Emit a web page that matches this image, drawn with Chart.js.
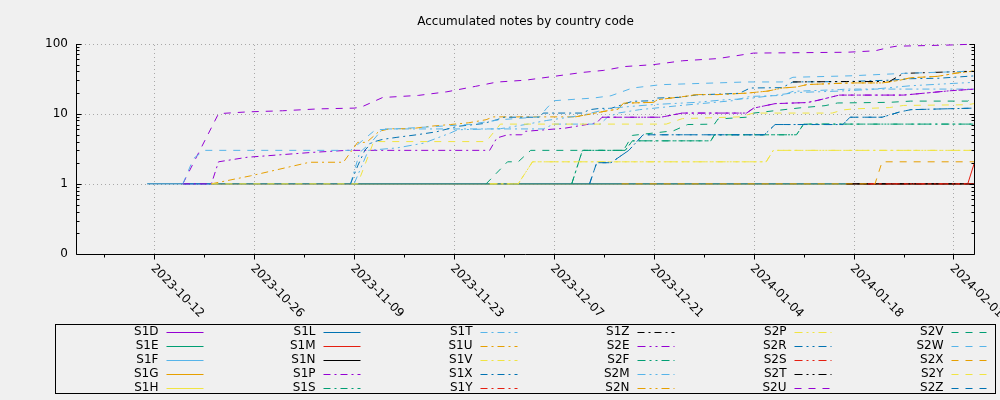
<!DOCTYPE html>
<html>
<head>
<meta charset="utf-8">
<title>Accumulated notes by country code</title>
<script src="https://cdn.jsdelivr.net/npm/chart.js@4.4.1/dist/chart.umd.min.js"></script>
<style>
  html, body { margin: 0; padding: 0; background: #f0f0f0; }
  #wrap { width: 1000px; height: 400px; position: relative; }
</style>
</head>
<body>
<div id="wrap"><canvas id="chart"></canvas></div>
<script>
const TITLE = 'Accumulated notes by country code';
const X_TICKS = ['2023-10-12', '2023-10-26', '2023-11-09', '2023-11-23', '2023-12-07',
                 '2023-12-21', '2024-01-04', '2024-01-18', '2024-02-01'];
const X_FIRST = '2023-10-01T04';
const X_LAST = '2024-02-03T21';
const Y_TICKS = [0.1, 1, 10, 100];
const Y_LABELS = ['0', '1', '10', '100'];

const CODES = ['S1D', 'S1E', 'S1F', 'S1G', 'S1H', 'S1L', 'S1M', 'S1N', 'S1P', 'S1S',
               'S1T', 'S1U', 'S1V', 'S1X', 'S1Y', 'S1Z', 'S2E', 'S2F', 'S2M', 'S2N',
               'S2P', 'S2R', 'S2S', 'S2T', 'S2U', 'S2V', 'S2W', 'S2X', 'S2Y', 'S2Z'];

// [date, accumulated notes]
const S1D = [['2023-10-16', 1], ['2024-02-04', 1]];
const S1E = [['2023-11-09', 1], ['2024-02-04', 1]];
const S1F = [['2023-10-16', 1], ['2024-02-04', 1]];
const S1G = [['2023-10-20', 1], ['2024-02-04', 1]];
const S1H = [['2023-10-20', 1], ['2024-02-04', 1]];
const S1L = [['2023-10-11', 1], ['2024-02-04', 1]];
const S1M = [['2024-01-17', 1], ['2024-02-03', 1], ['2024-02-04', 2.1]];
const S1N = [['2024-01-17', 1], ['2024-02-04', 1]];
const S1P = [['2023-10-16', 1], ['2023-10-20', 1], ['2023-10-21', 2.06], ['2023-10-25', 2.39],
             ['2023-11-03', 2.8], ['2023-11-08', 3], ['2023-11-28', 3], ['2023-11-29', 4.5],
             ['2023-11-30T12', 5], ['2023-12-02T12', 5], ['2023-12-03', 5.6], ['2023-12-08T12', 6.2],
             ['2023-12-13', 7.4], ['2023-12-13T18', 8.9], ['2023-12-22', 8.9], ['2023-12-25', 10.2],
             ['2024-01-03', 10.2], ['2024-01-04', 12], ['2024-01-07', 13.9], ['2024-01-11T12', 14.4],
             ['2024-01-13', 15.5], ['2024-01-16', 18.4], ['2024-01-25', 18.4], ['2024-01-27', 19.2],
             ['2024-01-31T12', 21.2], ['2024-02-04', 22.4]];
const S1S = [['2023-12-09T12', 1], ['2023-12-11', 3], ['2023-12-17', 3], ['2023-12-18', 4.1],
             ['2023-12-29', 4.1], ['2023-12-29T12', 5], ['2024-01-10', 5], ['2024-01-11', 7.1],
             ['2024-02-04', 7.1]];
const S1T = [['2023-11-08T12', 1], ['2023-11-09T19', 2.8], ['2023-11-11T12', 4], ['2023-11-13', 6.06],
             ['2023-12-05T12', 6.06], ['2023-12-07', 7.1], ['2023-12-13T12', 7.1], ['2023-12-14T12', 8.9],
             ['2023-12-16', 10.2], ['2023-12-19', 11.4], ['2023-12-24T12', 13], ['2024-01-01', 15.3],
             ['2024-01-03T12', 17.6], ['2024-01-08', 18.2], ['2024-01-09T12', 20.8], ['2024-01-16', 22],
             ['2024-01-17', 22.4], ['2024-02-04', 22.4]];
const S1U = [['2023-10-20', 1], ['2023-10-22', 1.1], ['2023-10-25T12', 1.3], ['2023-11-02T18', 2.03],
             ['2023-11-07T12', 2.03], ['2023-11-09T12', 3.9], ['2023-11-10T18', 3.9], ['2023-11-12T12', 5.6],
             ['2023-11-14', 6.1], ['2023-11-17', 6.1], ['2023-11-19T12', 6.6], ['2023-11-22T12', 7],
             ['2023-11-25', 7.4], ['2023-11-27T12', 8.2], ['2023-11-28T12', 9], ['2023-12-10', 9],
             ['2023-12-14T12', 11], ['2023-12-16', 11.6], ['2023-12-16T18', 14.1], ['2023-12-21', 14.5],
             ['2023-12-21T12', 15.8], ['2023-12-25T12', 17.7], ['2023-12-27', 18.7], ['2023-12-30', 18.7],
             ['2024-01-03', 19.6], ['2024-01-06', 21], ['2024-01-08', 23.2], ['2024-01-10', 24],
             ['2024-01-11T12', 26], ['2024-01-17T12', 27.4], ['2024-01-22', 27.4], ['2024-01-24T12', 30],
             ['2024-01-26', 32.5], ['2024-01-29T18', 34], ['2024-02-01T12', 38], ['2024-02-04', 40.6]];
const S1V = [['2023-11-28', 1], ['2023-12-02', 1], ['2023-12-04', 2.06], ['2024-01-05T18', 2.06],
             ['2024-01-06T18', 3], ['2024-02-04', 3]];
const S1X = [['2023-11-08T12', 1], ['2023-11-09T12', 1.8], ['2023-11-10T12', 3], ['2023-11-11T12', 3.9],
             ['2023-11-13', 4.3], ['2023-11-15', 4.6], ['2023-11-17T18', 5], ['2023-11-20T12', 5.5],
             ['2023-11-23T12', 6.6], ['2023-11-27', 7.2], ['2023-11-29', 8.2], ['2023-11-30', 8.9],
             ['2023-12-05', 8.9], ['2023-12-05T12', 10.2], ['2023-12-11', 10.2], ['2023-12-12', 11.4],
             ['2023-12-13T12', 11.9], ['2023-12-15', 11.9], ['2023-12-18', 15], ['2023-12-21', 15.3],
             ['2023-12-21T12', 16.7], ['2023-12-24T18', 17.1], ['2023-12-27', 18.5], ['2024-01-02', 19.5],
             ['2024-01-03T12', 23.2], ['2024-01-08', 23.5], ['2024-01-09T12', 28.3], ['2024-01-17', 28.7],
             ['2024-01-23', 30], ['2024-01-26', 31.5], ['2024-01-30', 32], ['2024-02-04', 34.6]];
const S1Y = [['2024-01-20', 1], ['2024-02-04', 1]];
const S1Z = [['2024-01-17', 1], ['2024-02-04', 1]];
const S2E = [['2023-12-13T18', 8.9], ['2023-12-22', 8.9], ['2023-12-25', 10.2], ['2024-01-03', 10.2],
             ['2024-01-04', 12], ['2024-01-07', 13.9], ['2024-01-11T12', 14.4], ['2024-01-13', 15.5],
             ['2024-01-16', 18.4], ['2024-01-25', 18.4], ['2024-01-27', 19.2], ['2024-01-31T12', 21.2],
             ['2024-02-04', 22.4]];
const S2F = [['2023-12-09T12', 1], ['2023-12-11', 3], ['2023-12-17', 3], ['2023-12-18', 4.1],
             ['2023-12-29', 4.1], ['2023-12-29T12', 5], ['2024-01-10', 5], ['2024-01-11', 7.1],
             ['2024-02-04', 7.1]];
const S2M = [['2023-11-09', 1], ['2023-11-11', 3], ['2023-11-15', 3.25], ['2023-11-18T18', 3.8],
             ['2023-11-22T12', 5.3], ['2023-11-23T12', 5.9], ['2023-11-29T12', 6.1], ['2023-12-03', 7],
             ['2023-12-06', 8], ['2023-12-11', 9.5], ['2023-12-15', 12], ['2023-12-21', 13.5],
             ['2023-12-27', 14.5], ['2023-12-31', 15.8], ['2024-01-03', 16.3], ['2024-01-10', 20],
             ['2024-01-16', 21], ['2024-01-20', 22], ['2024-01-26', 25], ['2024-02-01', 27],
             ['2024-02-04', 28]];
const S2N = [['2023-12-10', 9], ['2023-12-14T12', 11], ['2023-12-16', 11.6], ['2023-12-16T18', 14.1],
             ['2023-12-21', 14.5], ['2023-12-21T12', 15.8], ['2023-12-25T12', 17.7], ['2023-12-27', 18.7],
             ['2023-12-30', 18.7], ['2024-01-03', 19.6], ['2024-01-06', 21], ['2024-01-08', 23.2],
             ['2024-01-10', 24], ['2024-01-11T12', 26], ['2024-01-17T12', 27.4], ['2024-01-22', 27.4],
             ['2024-01-24T12', 30], ['2024-01-26', 32.5], ['2024-01-29T18', 34], ['2024-02-01T12', 38],
             ['2024-02-04', 40.6]];
const S2P = [['2023-11-28', 1], ['2023-12-02', 1], ['2023-12-04', 2.06], ['2024-01-05T18', 2.06],
             ['2024-01-06T18', 3], ['2024-02-04', 3]];
const S2R = [['2023-12-12', 1], ['2023-12-13', 2], ['2023-12-15', 2], ['2023-12-17T12', 3],
             ['2023-12-19T12', 5], ['2024-01-05T12', 5], ['2024-01-07', 7], ['2024-01-16T12', 7],
             ['2024-01-17T12', 8.9], ['2024-01-22', 8.9], ['2024-01-24T12', 10.6], ['2024-01-26', 11.4],
             ['2024-02-04', 12]];
const S2S = [['2024-01-20', 1], ['2024-02-04', 1]];
const S2T = [['2024-01-09T12', 28.3], ['2024-01-17', 28.7], ['2024-01-23', 28.7], ['2024-01-25', 37.5],
             ['2024-02-02T12', 40], ['2024-02-04', 40]];
const S2U = [['2023-10-16', 1], ['2023-10-21', 10], ['2023-10-25', 10.6], ['2023-10-30', 11],
             ['2023-11-04', 11.7], ['2023-11-09', 12], ['2023-11-10', 12.4], ['2023-11-12', 15.3],
             ['2023-11-13', 17], ['2023-11-18', 18.2], ['2023-11-22', 20.5], ['2023-11-26', 24.5],
             ['2023-11-29', 28.2], ['2023-12-03', 30], ['2023-12-07', 34], ['2023-12-11', 38.7],
             ['2023-12-14', 41.4], ['2023-12-17', 47], ['2023-12-21', 50], ['2023-12-25', 56.7],
             ['2023-12-30', 61], ['2024-01-03', 70.5], ['2024-01-04', 73], ['2024-01-17', 75],
             ['2024-01-21', 78.6], ['2024-01-23', 88], ['2024-01-24', 91.5], ['2024-01-31', 94.8],
             ['2024-02-04', 98]];
const S2V = [['2023-11-27T12', 1], ['2023-11-30T12', 2.06], ['2023-12-02', 2.06], ['2023-12-03T18', 3],
             ['2023-12-16T18', 3], ['2023-12-18', 4.9], ['2023-12-23T18', 5.7], ['2023-12-25T18', 7],
             ['2023-12-29T12', 7.1], ['2023-12-30', 8.4], ['2024-01-03', 8.9], ['2024-01-04', 10.2],
             ['2024-01-10T12', 12.1], ['2024-01-14', 13], ['2024-01-15T18', 14.2], ['2024-01-23', 14.5],
             ['2024-01-26', 15.1], ['2024-02-03', 15.1], ['2024-02-04', 18]];
const S2W = [['2023-10-16', 1], ['2023-10-17T12', 2.3], ['2023-10-19', 3], ['2023-11-08T12', 3],
             ['2023-11-10', 4], ['2023-11-12', 5.9], ['2023-11-14', 6], ['2023-11-25', 7],
             ['2023-11-29T12', 8.2], ['2023-12-05', 9], ['2023-12-06', 12], ['2023-12-07', 15.3],
             ['2023-12-12T12', 16.7], ['2023-12-15', 18], ['2023-12-18', 23.2], ['2023-12-22', 25.9],
             ['2024-01-03', 28.3], ['2024-01-08', 28.3], ['2024-01-09T12', 33], ['2024-01-17T12', 34.6],
             ['2024-01-25', 37.5], ['2024-02-02T12', 40], ['2024-02-04', 40]];
const S2X = [['2023-12-16T12', 1], ['2024-01-21', 1], ['2024-01-22', 2.06], ['2024-02-04', 2.06]];
const S2Y = [['2023-10-20', 1], ['2023-11-09T12', 1], ['2023-11-11T18', 4], ['2023-11-27T12', 4],
             ['2023-11-29T12', 7.1], ['2023-12-22T18', 7.1], ['2023-12-25', 8.5], ['2024-01-02', 9],
             ['2024-01-04', 10.2], ['2024-01-15', 10.2], ['2024-01-16T12', 11.3], ['2024-01-18', 11.7],
             ['2024-01-23', 12.2], ['2024-01-25', 13.1], ['2024-02-03', 13.4], ['2024-02-04', 14]];
const S2Z = [['2023-12-12', 1], ['2023-12-13', 2], ['2023-12-15', 2], ['2023-12-17T12', 3],
             ['2023-12-19T12', 5], ['2024-01-05T12', 5], ['2024-01-07', 7], ['2024-01-16T12', 7],
             ['2024-01-17T12', 8.9], ['2024-01-22', 8.9], ['2024-01-24T12', 10.6], ['2024-01-26', 11.4],
             ['2024-02-04', 12]];

const POINTS = [S1D, S1E, S1F, S1G, S1H, S1L, S1M, S1N, S1P, S1S,
                S1T, S1U, S1V, S1X, S1Y, S1Z, S2E, S2F, S2M, S2N,
                S2P, S2R, S2S, S2T, S2U, S2V, S2W, S2X, S2Y, S2Z];

const COLORS = ['#9400d3', '#009e73', '#56b4e9', '#e69f00', '#f0e442', '#0072b2', '#e51e10', '#000000'];
const DASHES = [[], [7, 4, 2, 4], [8, 4, 2, 4, 2, 4], [7, 7]];

const FONT = '12px "DejaVu Sans"';
const T0 = Date.UTC(2023, 9, 12);

// date string -> days after 2023-10-12
function day(s) {
    const [date, hour] = s.split('T');
    const [y, m, d] = date.split('-').map(Number);
    return (Date.UTC(y, m - 1, d, Number(hour || 0)) - T0) / 864e5;
}

const datasets = CODES.map((code, i) => ({
    label: code,
    data: POINTS[i].map(p => ({ x: day(p[0]), y: p[1] })),
    borderColor: COLORS[i % 8],
    borderDash: DASHES[Math.floor(i / 8)],
    borderWidth: 1,
    pointRadius: 0,
    fill: false,
    tension: 0,
    order: -i
}));

const gnuFrame = {
    id: 'gnuFrame',
    beforeDatasetsDraw(chart) {
        const { ctx, chartArea: a, scales: { x, y } } = chart;
        ctx.save();
        ctx.strokeStyle = '#a8a8a8';
        ctx.lineWidth = 1;
        ctx.setLineDash([1, 3]);
        ctx.beginPath();
        X_TICKS.forEach(s => {
            const px = Math.round(x.getPixelForValue(day(s))) + 0.5;
            ctx.moveTo(px, a.bottom);
            ctx.lineTo(px, a.top);
        });
        Y_TICKS.slice(1).forEach(v => {
            const py = Math.round(y.getPixelForValue(v)) + 0.5;
            ctx.moveTo(a.left, py);
            ctx.lineTo(a.right, py);
        });
        ctx.stroke();
        ctx.restore();
    },
    afterDraw(chart) {
        const { ctx, chartArea: a, scales: { x, y } } = chart;
        const L = Math.round(a.left) - 0.5;
        const R = Math.round(a.right) + 0.5;
        const B = Math.round(a.bottom) + 0.5;
        const T = Math.round(a.top);
        ctx.save();
        ctx.strokeStyle = '#000';
        ctx.lineWidth = 1;
        ctx.setLineDash([]);
        ctx.beginPath();
        ctx.moveTo(L, T); ctx.lineTo(L, B); ctx.lineTo(R, B); ctx.lineTo(R, T);

        // log ticks, inward on both sides
        for (let e = -1; e <= 2; e++) {
            for (let m = 1; m <= 9; m++) {
                const v = m * Math.pow(10, e);
                if (v > 100.0001) break;
                const py = Math.round(y.getPixelForValue(v)) + 0.5;
                const len = m === 1 ? 5 : 3;
                ctx.moveTo(L, py); ctx.lineTo(L + len, py);
                ctx.moveTo(R, py); ctx.lineTo(R - len, py);
            }
        }
        // week ticks under the axis
        const majors = X_TICKS.map(day);
        for (let t = majors[0] - 7; t <= x.max; t += 7) {
            const px = Math.round(x.getPixelForValue(t)) + 0.5;
            const major = majors.some(m => Math.abs(m - t) < 1e-6);
            ctx.moveTo(px, B);
            ctx.lineTo(px, B + (major ? 5 : 3));
        }
        ctx.stroke();

        ctx.fillStyle = '#000';
        ctx.font = FONT;

        // rotated date labels
        ctx.textAlign = 'left';
        ctx.textBaseline = 'middle';
        X_TICKS.forEach(s => {
            const px = x.getPixelForValue(day(s));
            ctx.save();
            ctx.translate(px - 1.7, a.bottom + 12.5);
            ctx.rotate(Math.PI / 4);
            ctx.fillText(s, 0, 0);
            ctx.restore();
        });

        // title
        ctx.textAlign = 'center';
        ctx.fillText(TITLE, (a.left + a.right) / 2, 22);

        // key box, filled column by column
        ctx.strokeRect(55.5, 324.5, 940, 69);
        chart.data.datasets.forEach((ds, i) => {
            const col = Math.floor(i / 5);
            const row = i % 5;
            const tx = 158.5 + col * 157;
            const ty = 332 + row * 13.9;
            ctx.textAlign = 'right';
            ctx.fillStyle = '#000';
            ctx.fillText(ds.label, tx, ty);
            ctx.beginPath();
            ctx.strokeStyle = ds.borderColor;
            ctx.setLineDash(ds.borderDash);
            const ly = Math.round(ty) + 0.5;
            ctx.moveTo(tx + 8, ly);
            ctx.lineTo(tx + 45, ly);
            ctx.stroke();
        });
        ctx.restore();
    }
};

Chart.defaults.font.family = '"DejaVu Sans"';
Chart.defaults.font.size = 12;
Chart.defaults.color = '#000';

new Chart(document.getElementById('chart'), {
    type: 'line',
    data: { datasets: datasets },
    options: {
        responsive: true,
        maintainAspectRatio: false,
        animation: false,
        events: [],
        layout: { padding: { top: 43.5, right: 26, bottom: 0, left: 0 } },
        plugins: {
            legend: { display: false },
            title: { display: false },
            tooltip: { enabled: false }
        },
        scales: {
            x: {
                type: 'linear',
                min: day(X_FIRST),
                max: day(X_LAST),
                ticks: { display: false },
                grid: { display: false, drawTicks: false },
                border: { display: false },
                afterFit(scale) { scale.height = 146; }
            },
            y: {
                type: 'logarithmic',
                min: 0.1,
                max: 100,
                afterBuildTicks(scale) { scale.ticks = Y_TICKS.map(v => ({ value: v })); },
                ticks: {
                    padding: 9,
                    callback: value => Y_LABELS[Y_TICKS.indexOf(value)]
                },
                grid: { display: false, drawTicks: false },
                border: { display: false },
                afterFit(scale) { scale.width = 77; }
            }
        }
    },
    plugins: [gnuFrame]
});
</script>
</body>
</html>
